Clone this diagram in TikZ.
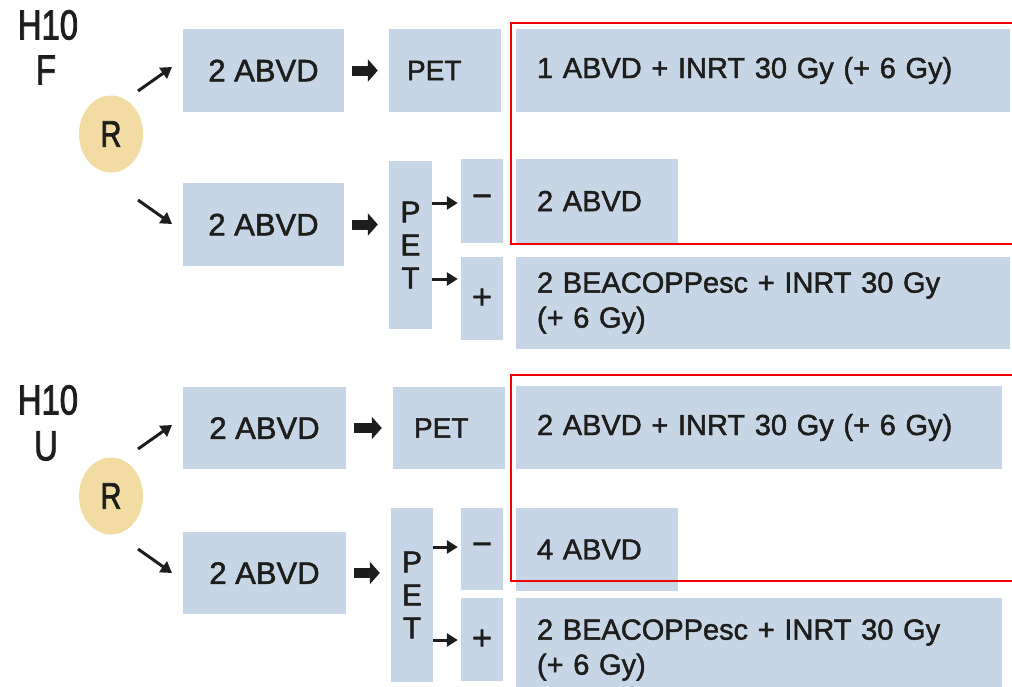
\documentclass[tikz,border=0pt]{standalone}
\usepackage{fontspec}
\setmainfont[FakeBold=1.6]{Liberation Sans}
\newfontfamily\condfont[FakeStretch=0.78,FakeBold=2]{Liberation Sans}
\usetikzlibrary{arrows.meta,shapes.geometric}
\definecolor{boxblue}{RGB}{198,214,230}
\definecolor{randbuff}{RGB}{243,220,163}
\definecolor{ink}{RGB}{29,29,27}
\definecolor{markred}{RGB}{240,0,0}
\begin{document}
\begin{tikzpicture}[x=1pt,y=-1pt,
  every node/.style={text=ink},
  box/.style={fill=boxblue, draw=none, inner sep=0pt, font=\fontsize{29}{35}\selectfont},
  leftbox/.style={box, align=left, inner xsep=21pt},
  armbox/.style={box, font=\fontsize{31}{35}\selectfont, minimum width=162pt, minimum height=83pt},
  petcol/.style={box, align=center, font=\fontsize{30}{33}\selectfont},
  signbox/.style={box, minimum width=42pt, font=\fontsize{34}{34}\selectfont},
  randnode/.style={ellipse, fill=randbuff, draw=none, inner sep=0pt,
    minimum width=64pt, minimum height=77pt, font=\condfont\fontsize{37}{37}\selectfont},
  grouplabel/.style={inner sep=0pt, font=\condfont\fontsize{42}{42}\selectfont},
  thickarrow/.style={draw=ink, line width=10pt, -{Triangle[length=10pt,width=22pt]},
    shorten <=8pt, shorten >=11pt},
  smallarrow/.style={draw=ink, line width=3pt, -{Triangle[length=11pt,width=13pt]}},
  redmark/.style={draw=markred, line width=2.5pt}
]
\useasboundingbox (0,0) rectangle (1012,686);
\clip (0,0) rectangle (1012,686);

% ---------------- H10 F ----------------
\node[grouplabel] (h10f) at (48,25) {H10};
\node[grouplabel] (labf) at (46,70) {F};
\node[randnode] (rf) at (111,134) {R};
\coordinate (rfa0) at (138,91);  \coordinate (rfa1) at (172,67);
\coordinate (rfb0) at (138,200); \coordinate (rfb1) at (172,224);
\draw[smallarrow] (rfa0) -- (rfa1);
\draw[smallarrow] (rfb0) -- (rfb1);

\node[armbox, minimum width=161pt] (fabvdA) at (263.5,70.5) {2 ABVD};
\node[leftbox, inner xsep=18pt, text width=76pt, minimum height=83pt,
  font=\fontsize{28}{33}\selectfont] (fpet) at (445,70.5) {PET};
\node[leftbox, text width=452pt, minimum height=83pt] (fexpA) at (763,70.5)
  {1 ABVD + INRT 30 Gy (+ 6 Gy)};
\draw[thickarrow] (fabvdA.east) -- (fpet.west);

\node[armbox, minimum width=161pt] (fabvdB) at (263.5,224.5) {2 ABVD};
\node[petcol, minimum width=43pt, minimum height=168pt] (fpetv) at (410.5,245) {P\\E\\T};
\node[signbox, minimum height=84pt] (fneg) at (482,201) {−};
\node[signbox, minimum height=83pt] (fpos) at (482,298.5) {+};
\node[leftbox, text width=120pt, minimum height=84pt] (fexpB) at (597,201) {2 ABVD};
\node[leftbox, text width=452pt, minimum height=92pt] (fexpC) at (763,303)
  {2 BEACOPPesc + INRT 30 Gy\\(+ 6 Gy)};
\draw[thickarrow] (fabvdB.east) -- (fabvdB.east -| fpetv.west);
\draw[smallarrow, shorten >=3pt] (fpetv.east |- 0,203) -- (fneg.west |- 0,203);
\draw[smallarrow, shorten >=3pt] (fpetv.east |- 0,279) -- (fpos.west |- 0,279);

\draw[redmark] (511,23) rectangle (1020,244);

% ---------------- H10 U ----------------
\node[grouplabel] (h10u) at (48,400) {H10};
\node[grouplabel] (labu) at (46,446) {U};
\node[randnode] (ru) at (111,496) {R};
\coordinate (rua0) at (138,449); \coordinate (rua1) at (172,425);
\coordinate (rub0) at (138,549); \coordinate (rub1) at (172,573);
\draw[smallarrow] (rua0) -- (rua1);
\draw[smallarrow] (rub0) -- (rub1);

\node[armbox, minimum width=163pt, minimum height=82pt] (uabvdA) at (264.5,428) {2 ABVD};
\node[leftbox, text width=70pt, minimum height=82pt,
  font=\fontsize{28}{33}\selectfont] (upet) at (449,428) {PET};
\node[leftbox, text width=444pt, minimum height=83pt] (uexpA) at (759,427.5)
  {2 ABVD + INRT 30 Gy (+ 6 Gy)};
\draw[thickarrow] (uabvdA.east) -- (upet.west);

\node[armbox, minimum width=163pt, minimum height=82pt] (uabvdB) at (264.5,573) {2 ABVD};
\node[petcol, minimum width=42pt, minimum height=174pt] (upetv) at (412,595) {P\\E\\T};
\node[signbox, minimum height=82pt] (uneg) at (482,549) {−};
\node[signbox, minimum height=83pt] (upos) at (482,639.5) {+};
\node[leftbox, text width=120pt, minimum height=83pt] (uexpB) at (597,549.5) {4 ABVD};
\node[leftbox, text width=444pt, minimum height=104pt] (uexpC) at (759,650)
  {2 BEACOPPesc + INRT 30 Gy\\(+ 6 Gy)};
\draw[thickarrow] (uabvdB.east) -- (uabvdB.east -| upetv.west);
\draw[smallarrow, shorten >=3pt] (upetv.east |- 0,547) -- (uneg.west |- 0,547);
\draw[smallarrow, shorten >=3pt] (upetv.east |- 0,640) -- (upos.west |- 0,640);

\draw[redmark] (511,375) rectangle (1020,581);
\end{tikzpicture}
\end{document}
